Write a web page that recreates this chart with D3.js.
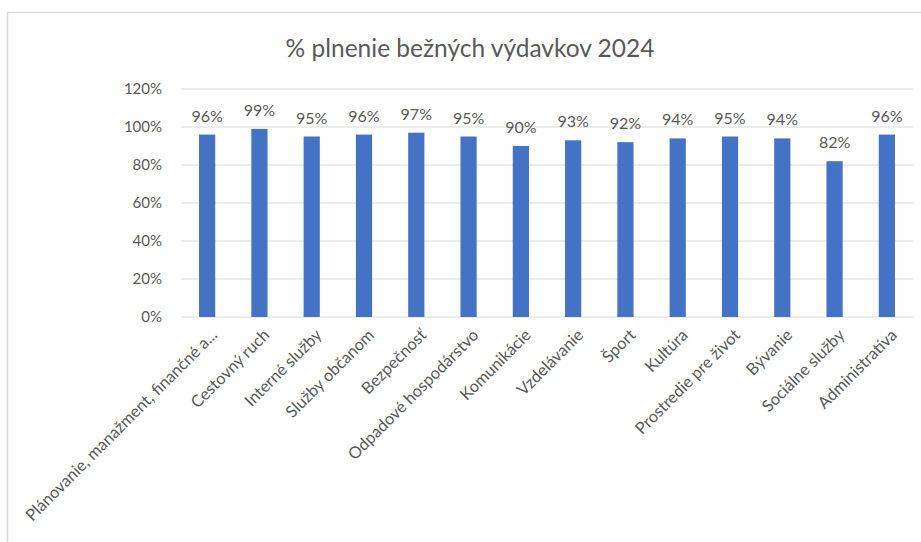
<!DOCTYPE html>
<html>
<head>
<meta charset="utf-8">
<script src="https://cdn.jsdelivr.net/npm/d3@7"></script>
<style>
  body { margin: 0; background: #fff; }
  text { font-family: Lato, "Open Sans", sans-serif; fill: #595959; }
</style>
</head>
<body>
<div id="container"></div>
<script>
// categories and values (% plnenia)
const categories = ["Plánovanie, manažment, finančné a...", "Cestovný ruch", "Interné služby", "Služby občanom",
  "Bezpečnosť", "Odpadové hospodárstvo", "Komunikácie", "Vzdelávanie", "Šport", "Kultúra",
  "Prostredie pre život", "Bývanie", "Sociálne služby", "Administratíva"]
const values = [96, 99, 95, 96, 97, 95, 90, 93, 92, 94, 95, 94, 82, 96]
const yTicks = [0, 20, 40, 60, 80, 100, 120]
const title = "% plnenie bežných výdavkov 2024"

const W = 921, H = 542
const margin = { top: 89, right: 8, bottom: 225, left: 181 }
const width = W - margin.left - margin.right
const height = H - margin.top - margin.bottom

const root = d3.select("#container")
  .append("svg")
  .attr("width", W)
  .attr("height", H)

// chart frame
root.append("rect")
  .attr("x", 7.5).attr("y", 12.5)
  .attr("width", W + 20).attr("height", H + 20)
  .attr("fill", "none")
  .attr("stroke", "#d9d9d9")
  .attr("stroke-width", 1.5)

root.append("text")
  .attr("x", 470).attr("y", 57)
  .attr("text-anchor", "middle")
  .style("font-size", "24.5px")
  .text(title)

const svg = root.append("g")
  .attr("transform", `translate(${margin.left}, ${margin.top})`)

const xScale = d3.scaleBand()
  .domain(categories)
  .range([0, width])
  .paddingInner(0.69)
  .paddingOuter(0.345)

const yScale = d3.scaleLinear()
  .domain([0, 120])
  .range([height, 0])

// gridlines
svg.append("g")
  .selectAll("line")
  .data(yTicks)
  .join("line")
  .attr("x1", 0).attr("x2", width)
  .attr("y1", d => yScale(d)).attr("y2", d => yScale(d))
  .attr("stroke", "#d9d9d9")
  .attr("stroke-width", 1)

// y axis labels
const yAxis = svg.append("g")
  .attr("transform", "translate(-16,0)")
  .call(d3.axisLeft(yScale).tickValues(yTicks).tickFormat(d => d + "%").tickSize(0))
yAxis.select(".domain").remove()
yAxis.selectAll("text").style("font-size", "15px").attr("fill", "#595959")

// bars
svg.append("g")
  .selectAll("rect")
  .data(values)
  .join("rect")
  .attr("x", (d, i) => xScale(categories[i]))
  .attr("y", d => yScale(d))
  .attr("width", xScale.bandwidth())
  .attr("height", d => height - yScale(d))
  .attr("fill", "#4472c4")

// data labels
svg.append("g")
  .selectAll("text")
  .data(values)
  .join("text")
  .attr("x", (d, i) => xScale(categories[i]) + xScale.bandwidth() / 2)
  .attr("y", d => yScale(d) - 13)
  .attr("text-anchor", "middle")
  .style("font-size", "16px")
  .text(d => d + "%")

// x axis labels, rotated
const xAxis = svg.append("g")
  .attr("transform", `translate(0, ${height})`)
  .call(d3.axisBottom(xScale).tickSize(0))
xAxis.select(".domain").remove()
xAxis.selectAll("text")
  .style("font-size", "16.4px")
  .attr("fill", "#595959")
  .style("text-anchor", "end")
  .attr("dy", "0")
  .attr("transform", "translate(9,17)rotate(-45)")
</script>
</body>
</html>
